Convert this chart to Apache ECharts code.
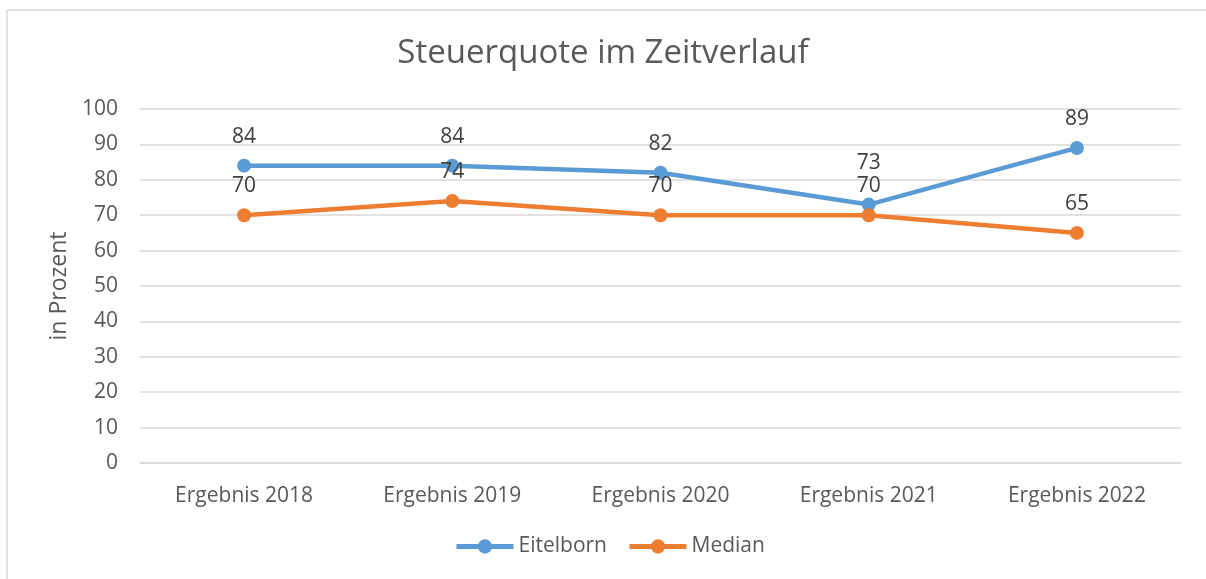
<!DOCTYPE html>
<html>
<head>
<meta charset="utf-8">
<title>Steuerquote im Zeitverlauf</title>
<script src="https://cdn.jsdelivr.net/npm/echarts@6/dist/echarts.min.js"></script>
<style>
  html, body { margin: 0; padding: 0; background: #fff; }
  #chart { width: 1206px; height: 579px; }
</style>
</head>
<body>
<div id="chart"></div>
<script>
// data
let categories = ['Ergebnis 2018', 'Ergebnis 2019', 'Ergebnis 2020', 'Ergebnis 2021', 'Ergebnis 2022']
let eitelborn = [84, 84, 82, 73, 89]
let median = [70, 74, 70, 70, 65]

let textColor = '#595959'
let gridColor = '#d9d9d9'
let font = 'Open Sans'

function makeSeries(name, data, color, layout) {
  return {
    name: name,
    type: 'line',
    data: data,
    symbol: 'circle',
    symbolSize: 14,
    itemStyle: { color: color },
    lineStyle: { color: color, width: 4.5 },
    label: {
      show: true,
      position: 'top',
      distance: 10,
      color: '#404040',
      fontFamily: font,
      fontSize: 21,
      lineHeight: 24
    },
    labelLayout: layout,
    emphasis: { disabled: true }
  }
}

let chart = echarts.init(document.getElementById('chart'))
chart.setOption({
  animation: false,
  backgroundColor: '#fff',
  title: {
    text: 'Steuerquote im Zeitverlauf',
    left: 'center',
    top: 32,
    textStyle: { color: textColor, fontFamily: font, fontSize: 33, fontWeight: 'normal' }
  },
  // thin frame at top and left, like the original export
  graphic: [
    { type: 'line', shape: { x1: 7, y1: 10, x2: 1206, y2: 10 }, style: { stroke: gridColor, lineWidth: 1.5 } },
    { type: 'line', shape: { x1: 7, y1: 10, x2: 7, y2: 579 }, style: { stroke: gridColor, lineWidth: 1.5 } }
  ],
  legend: {
    bottom: 17,
    left: 449,
    itemWidth: 57,
    itemHeight: 18,
    itemGap: 20,
    lineStyle: { width: 5 },
    textStyle: { color: textColor, fontFamily: font, fontSize: 21 },
    data: ['Eitelborn', 'Median']
  },
  grid: { left: 140, right: 25, top: 109, bottom: 116 },
  xAxis: {
    type: 'category',
    data: categories,
    boundaryGap: true,
    axisLine: { show: true, lineStyle: { color: gridColor, width: 1.5 } },
    axisTick: { show: false },
    axisLabel: { color: textColor, fontFamily: font, fontSize: 21, margin: 23 }
  },
  yAxis: {
    type: 'value',
    min: 0,
    max: 100,
    interval: 10,
    name: 'in Prozent',
    nameLocation: 'middle',
    nameGap: 67,
    nameRotate: 90,
    nameTextStyle: { color: textColor, fontFamily: font, fontSize: 23 },
    axisLine: { show: false },
    axisTick: { show: false },
    axisLabel: { color: textColor, fontFamily: font, fontSize: 21, margin: 22 },
    splitLine: { lineStyle: { color: gridColor, width: 1.5 } }
  },
  series: [
    // the 2021 label sits higher in the original so it clears the median label
    makeSeries('Eitelborn', eitelborn, '#5b9bd5', p => p.dataIndex === 3 ? { dy: -13 } : {}),
    makeSeries('Median', median, '#ed7d31')
  ]
})
</script>
</body>
</html>
